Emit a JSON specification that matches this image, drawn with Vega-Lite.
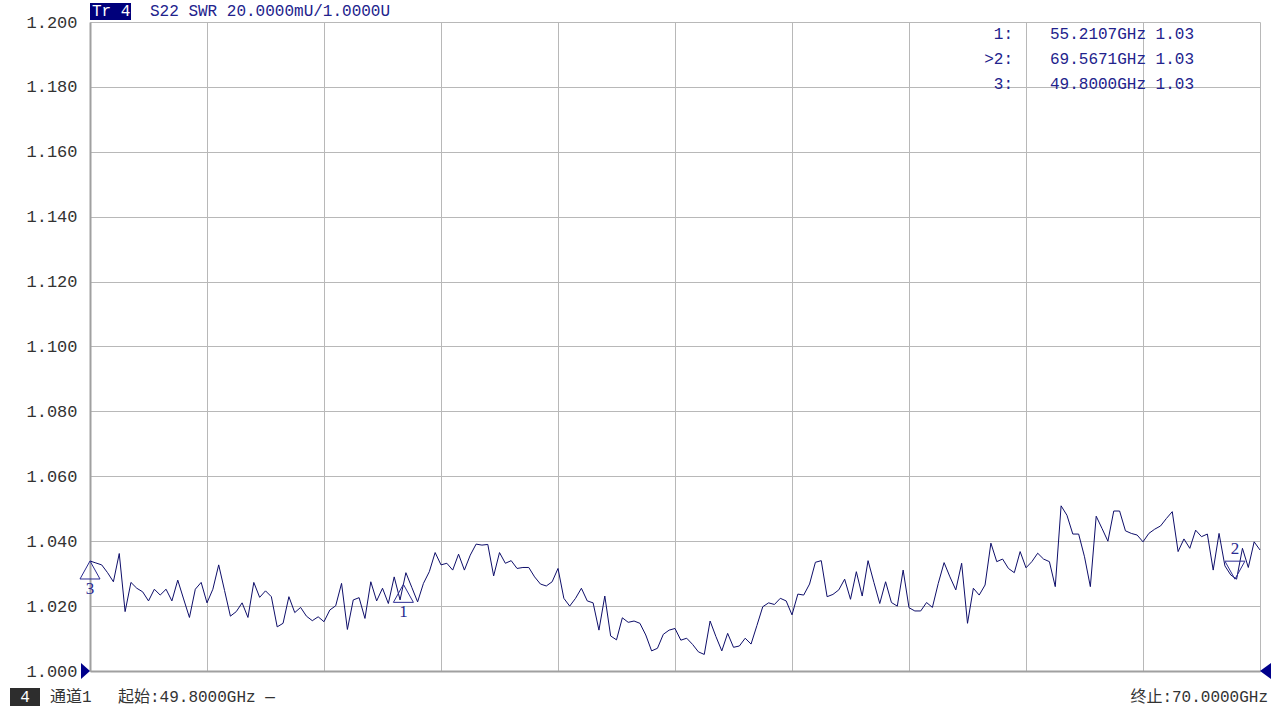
{
"$schema": "https://vega.github.io/schema/vega-lite/v6.json",
"width": 1170, "height": 649,
"autosize": "none",
"padding": {"left": 90, "top": 22, "right": 20, "bottom": 37},
"background": "white",
"config": {"view": {"stroke": null}, "font": "Liberation Mono, Noto Sans CJK SC"},
"data": {"values": [{}]},
"datasets": {
"trace": [
{"f":49.8,"swr":1.0339},{"f":49.901,"swr":1.0333},{"f":50.002,"swr":1.0327},{"f":50.103,"swr":1.0303},{"f":50.204,"swr":1.0275},
{"f":50.305,"swr":1.0362},{"f":50.406,"swr":1.0183},{"f":50.507,"swr":1.0273},{"f":50.608,"swr":1.0255},{"f":50.709,"swr":1.0244},
{"f":50.81,"swr":1.0216},{"f":50.911,"swr":1.0252},{"f":51.012,"swr":1.0234},{"f":51.113,"swr":1.0252},{"f":51.214,"swr":1.0216},
{"f":51.315,"swr":1.028},{"f":51.416,"swr":1.0222},{"f":51.517,"swr":1.0165},{"f":51.618,"swr":1.0252},{"f":51.719,"swr":1.0273},
{"f":51.82,"swr":1.021},{"f":51.921,"swr":1.0252},{"f":52.022,"swr":1.0327},{"f":52.123,"swr":1.0248},{"f":52.224,"swr":1.0169},
{"f":52.325,"swr":1.0183},{"f":52.426,"swr":1.021},{"f":52.527,"swr":1.0165},{"f":52.628,"swr":1.0273},{"f":52.729,"swr":1.0227},
{"f":52.83,"swr":1.0247},{"f":52.931,"swr":1.0229},{"f":53.032,"swr":1.0136},{"f":53.133,"swr":1.0147},{"f":53.234,"swr":1.0229},
{"f":53.335,"swr":1.018},{"f":53.436,"swr":1.0196},{"f":53.537,"swr":1.0169},{"f":53.638,"swr":1.0155},{"f":53.739,"swr":1.0167},
{"f":53.84,"swr":1.0152},{"f":53.941,"swr":1.0188},{"f":54.042,"swr":1.0201},{"f":54.143,"swr":1.027},{"f":54.244,"swr":1.0128},
{"f":54.345,"swr":1.0219},{"f":54.446,"swr":1.0226},{"f":54.547,"swr":1.0162},{"f":54.648,"swr":1.0275},{"f":54.749,"swr":1.0216},
{"f":54.85,"swr":1.0255},{"f":54.951,"swr":1.0208},{"f":55.052,"swr":1.029},{"f":55.153,"swr":1.0219},{"f":55.254,"swr":1.0303},
{"f":55.355,"swr":1.0258},{"f":55.456,"swr":1.0213},{"f":55.557,"swr":1.027},{"f":55.658,"swr":1.0306},{"f":55.759,"swr":1.0365},
{"f":55.86,"swr":1.0327},{"f":55.961,"swr":1.0332},{"f":56.062,"swr":1.0311},{"f":56.163,"swr":1.036},{"f":56.264,"swr":1.0311},
{"f":56.365,"swr":1.0357},{"f":56.466,"swr":1.0391},{"f":56.567,"swr":1.0388},{"f":56.668,"swr":1.039},{"f":56.769,"swr":1.0293},
{"f":56.87,"swr":1.0365},{"f":56.971,"swr":1.0332},{"f":57.072,"swr":1.034},{"f":57.173,"swr":1.0316},{"f":57.274,"swr":1.0319},
{"f":57.375,"swr":1.0319},{"f":57.476,"swr":1.029},{"f":57.577,"swr":1.0268},{"f":57.678,"swr":1.0262},{"f":57.779,"swr":1.0275},
{"f":57.88,"swr":1.0316},{"f":57.981,"swr":1.0224},{"f":58.082,"swr":1.02},{"f":58.183,"swr":1.0224},{"f":58.284,"swr":1.0255},
{"f":58.385,"swr":1.0216},{"f":58.486,"swr":1.021},{"f":58.587,"swr":1.0126},{"f":58.688,"swr":1.0231},{"f":58.789,"swr":1.0108},
{"f":58.89,"swr":1.0096},{"f":58.991,"swr":1.0164},{"f":59.092,"swr":1.015},{"f":59.193,"swr":1.0154},{"f":59.294,"swr":1.0147},
{"f":59.395,"swr":1.0111},{"f":59.496,"swr":1.0062},{"f":59.597,"swr":1.007},{"f":59.698,"swr":1.0113},{"f":59.799,"swr":1.0126},
{"f":59.9,"swr":1.0131},{"f":60.001,"swr":1.0095},{"f":60.102,"swr":1.0101},{"f":60.203,"swr":1.0082},{"f":60.304,"swr":1.0059},
{"f":60.405,"swr":1.0051},{"f":60.506,"swr":1.0154},{"f":60.607,"swr":1.0106},{"f":60.708,"swr":1.0062},{"f":60.809,"swr":1.0116},
{"f":60.91,"swr":1.0073},{"f":61.011,"swr":1.0077},{"f":61.112,"swr":1.0101},{"f":61.213,"swr":1.0083},{"f":61.314,"swr":1.014},
{"f":61.415,"swr":1.0198},{"f":61.516,"swr":1.021},{"f":61.617,"swr":1.0205},{"f":61.718,"swr":1.0224},{"f":61.819,"swr":1.0216},
{"f":61.92,"swr":1.0173},{"f":62.021,"swr":1.0237},{"f":62.122,"swr":1.0234},{"f":62.223,"swr":1.0268},{"f":62.324,"swr":1.0335},
{"f":62.425,"swr":1.034},{"f":62.526,"swr":1.0229},{"f":62.627,"swr":1.0236},{"f":62.728,"swr":1.025},{"f":62.829,"swr":1.0283},
{"f":62.93,"swr":1.0221},{"f":63.031,"swr":1.0306},{"f":63.132,"swr":1.0231},{"f":63.233,"swr":1.034},{"f":63.334,"swr":1.0273},
{"f":63.435,"swr":1.0208},{"f":63.536,"swr":1.0275},{"f":63.637,"swr":1.0211},{"f":63.738,"swr":1.02},{"f":63.839,"swr":1.0311},
{"f":63.94,"swr":1.0195},{"f":64.041,"swr":1.0185},{"f":64.142,"swr":1.0185},{"f":64.243,"swr":1.0211},{"f":64.344,"swr":1.0196},
{"f":64.445,"swr":1.027},{"f":64.546,"swr":1.0334},{"f":64.647,"swr":1.029},{"f":64.748,"swr":1.025},{"f":64.849,"swr":1.0332},
{"f":64.95,"swr":1.0147},{"f":65.051,"swr":1.0255},{"f":65.152,"swr":1.0234},{"f":65.253,"swr":1.0265},{"f":65.354,"swr":1.0394},
{"f":65.455,"swr":1.0337},{"f":65.556,"swr":1.0345},{"f":65.657,"swr":1.0316},{"f":65.758,"swr":1.0303},{"f":65.859,"swr":1.0368},
{"f":65.96,"swr":1.0318},{"f":66.061,"swr":1.0337},{"f":66.162,"swr":1.0363},{"f":66.263,"swr":1.0345},{"f":66.364,"swr":1.0337},
{"f":66.465,"swr":1.026},{"f":66.566,"swr":1.0509},{"f":66.667,"swr":1.048},{"f":66.768,"swr":1.0422},{"f":66.869,"swr":1.0422},
{"f":66.97,"swr":1.0352},{"f":67.071,"swr":1.026},{"f":67.172,"swr":1.0477},{"f":67.273,"swr":1.0439},{"f":67.374,"swr":1.04},
{"f":67.475,"swr":1.0493},{"f":67.576,"swr":1.0493},{"f":67.677,"swr":1.0432},{"f":67.778,"swr":1.0424},{"f":67.879,"swr":1.0419},
{"f":67.98,"swr":1.0398},{"f":68.081,"swr":1.0424},{"f":68.182,"swr":1.0437},{"f":68.283,"swr":1.0447},{"f":68.384,"swr":1.047},
{"f":68.485,"swr":1.0491},{"f":68.586,"swr":1.0368},{"f":68.687,"swr":1.0407},{"f":68.788,"swr":1.0378},{"f":68.889,"swr":1.0434},
{"f":68.99,"swr":1.0414},{"f":69.091,"swr":1.0422},{"f":69.192,"swr":1.0311},{"f":69.293,"swr":1.0424},{"f":69.394,"swr":1.0324},
{"f":69.495,"swr":1.0296},{"f":69.596,"swr":1.0283},{"f":69.697,"swr":1.0378},{"f":69.798,"swr":1.0319},{"f":69.899,"swr":1.0398},
{"f":70.0,"swr":1.0373}
],
"markers": [
{"m":"1","f":55.2107,"swr":1.0267,"active":false},
{"m":"2","f":69.5671,"swr":1.0283,"active":true},
{"m":"3","f":49.8,"swr":1.0339,"active":false}
]
},
"layer": [
{
"data": {"name": "trace"},
"mark": {"type": "line", "color": "#0e0e6a", "strokeWidth": 1, "interpolate": "linear"},
"encoding": {
"x": {"field": "f", "type": "quantitative",
"scale": {"domain": [49.8, 70], "nice": false, "zero": false},
"axis": {"values": [49.8, 51.82, 53.84, 55.86, 57.88, 59.9, 61.92, 63.94, 65.96, 67.98, 70],
"labels": false, "ticks": false, "title": null, "grid": true,
"gridColor": "#b8b8b8", "gridWidth": 1, "domainColor": "#a0a0a0", "domainWidth": 2}},
"y": {"field": "swr", "type": "quantitative",
"scale": {"domain": [1.0, 1.2], "nice": false, "zero": false},
"axis": {"values": [1.0, 1.02, 1.04, 1.06, 1.08, 1.1, 1.12, 1.14, 1.16, 1.18, 1.2],
"format": ".3f", "ticks": false, "labelPadding": 13, "labelFontSize": 17,
"labelColor": "#333333", "labelFont": "Liberation Mono", "title": null, "grid": true,
"gridColor": "#b8b8b8", "gridWidth": 1, "domainColor": "#a0a0a0", "domainWidth": 2}}
}
},
{
"data": {"name": "markers"},
"transform": [{"filter": "!datum.active"}],
"mark": {"type": "point", "shape": "M0,0L-1,1.8L1,1.8Z", "size": 400, "filled": false, "stroke": "#2a2a90", "strokeWidth": 1, "opacity": 1},
"encoding": {"x": {"field": "f", "type": "quantitative"}, "y": {"field": "swr", "type": "quantitative"}}
},
{
"data": {"name": "markers"},
"transform": [{"filter": "datum.active"}],
"mark": {"type": "point", "shape": "M0,0L-1,-1.8L1,-1.8Z", "size": 400, "filled": false, "stroke": "#2a2a90", "strokeWidth": 1, "opacity": 1},
"encoding": {"x": {"field": "f", "type": "quantitative"}, "y": {"field": "swr", "type": "quantitative"}}
},
{
"data": {"name": "markers"},
"transform": [{"filter": "!datum.active"}],
"mark": {"type": "text", "dy": 28, "fontSize": 17, "font": "Liberation Serif", "color": "#2a2a90", "align": "center", "baseline": "middle"},
"encoding": {"x": {"field": "f", "type": "quantitative"}, "y": {"field": "swr", "type": "quantitative"}, "text": {"field": "m"}}
},
{
"data": {"name": "markers"},
"transform": [{"filter": "datum.active"}],
"mark": {"type": "text", "dy": -30, "fontSize": 17, "font": "Liberation Serif", "color": "#2a2a90", "align": "center", "baseline": "middle"},
"encoding": {"x": {"field": "f", "type": "quantitative"}, "y": {"field": "swr", "type": "quantitative"}, "text": {"field": "m"}}
},
{
"mark": {"type": "point", "shape": "M0,0L-1.8,-1.6L-1.8,1.6Z", "size": 100, "filled": true, "color": "#00008b", "opacity": 1},
"encoding": {"x": {"datum": 49.8, "type": "quantitative"}, "y": {"datum": 1.0, "type": "quantitative"}}
},
{
"mark": {"type": "point", "shape": "M0,0L2.2,-1.6L2.2,1.6Z", "size": 100, "filled": true, "color": "#00008b", "opacity": 1},
"encoding": {"x": {"datum": 70, "type": "quantitative"}, "y": {"datum": 1.0, "type": "quantitative"}}
},
{
"mark": {"type": "point", "shape": "M0,-2.235L4.824,-2.235L4.824,-0.235L0,-0.235Z", "size": 289, "filled": true, "color": "#00007b", "opacity": 1},
"encoding": {"x": {"datum": 49.8, "type": "quantitative"}, "y": {"datum": 1.2, "type": "quantitative"}}
},
{
"mark": {"type": "text", "text": "Tr 4", "dx": 2, "dy": -11, "align": "left", "baseline": "middle", "fontSize": 16, "color": "white"},
"encoding": {"x": {"datum": 49.8, "type": "quantitative"}, "y": {"datum": 1.2, "type": "quantitative"}}
},
{
"mark": {"type": "text", "text": "S22 SWR 20.0000mU/1.0000U", "dx": 60, "dy": -11, "align": "left", "baseline": "middle", "fontSize": 16, "color": "#22228c"},
"encoding": {"x": {"datum": 49.8, "type": "quantitative"}, "y": {"datum": 1.2, "type": "quantitative"}}
},
{
"mark": {"type": "text", "text": "1:", "dx": -247, "dy": 12, "align": "right", "baseline": "middle", "fontSize": 16, "color": "#22228c"},
"encoding": {"x": {"datum": 70, "type": "quantitative"}, "y": {"datum": 1.2, "type": "quantitative"}}
},
{
"mark": {"type": "text", "text": "55.2107GHz 1.03", "dx": -66, "dy": 12, "align": "right", "baseline": "middle", "fontSize": 16, "color": "#22228c"},
"encoding": {"x": {"datum": 70, "type": "quantitative"}, "y": {"datum": 1.2, "type": "quantitative"}}
},
{
"mark": {"type": "text", "text": ">2:", "dx": -247, "dy": 37, "align": "right", "baseline": "middle", "fontSize": 16, "color": "#22228c"},
"encoding": {"x": {"datum": 70, "type": "quantitative"}, "y": {"datum": 1.2, "type": "quantitative"}}
},
{
"mark": {"type": "text", "text": "69.5671GHz 1.03", "dx": -66, "dy": 37, "align": "right", "baseline": "middle", "fontSize": 16, "color": "#22228c"},
"encoding": {"x": {"datum": 70, "type": "quantitative"}, "y": {"datum": 1.2, "type": "quantitative"}}
},
{
"mark": {"type": "text", "text": "3:", "dx": -247, "dy": 62, "align": "right", "baseline": "middle", "fontSize": 16, "color": "#22228c"},
"encoding": {"x": {"datum": 70, "type": "quantitative"}, "y": {"datum": 1.2, "type": "quantitative"}}
},
{
"mark": {"type": "text", "text": "49.8000GHz 1.03", "dx": -66, "dy": 62, "align": "right", "baseline": "middle", "fontSize": 16, "color": "#22228c"},
"encoding": {"x": {"datum": 70, "type": "quantitative"}, "y": {"datum": 1.2, "type": "quantitative"}}
},
{
"mark": {"type": "point", "shape": "M-8.889,1.889L-5.556,1.889L-5.556,3.889L-8.889,3.889Z", "size": 324, "filled": true, "color": "#2d2d2d", "opacity": 1},
"encoding": {"x": {"datum": 49.8, "type": "quantitative"}, "y": {"datum": 1.0, "type": "quantitative"}}
},
{
"mark": {"type": "text", "text": "4", "dx": -65, "dy": 26, "align": "center", "baseline": "middle", "fontSize": 16, "color": "white"},
"encoding": {"x": {"datum": 49.8, "type": "quantitative"}, "y": {"datum": 1.0, "type": "quantitative"}}
},
{
"mark": {"type": "text", "text": "通道1", "dx": -40, "dy": 26, "align": "left", "baseline": "middle", "fontSize": 16, "color": "#333333"},
"encoding": {"x": {"datum": 49.8, "type": "quantitative"}, "y": {"datum": 1.0, "type": "quantitative"}}
},
{
"mark": {"type": "text", "text": "起始:49.8000GHz —", "dx": 28, "dy": 26, "align": "left", "baseline": "middle", "fontSize": 16, "color": "#333333"},
"encoding": {"x": {"datum": 49.8, "type": "quantitative"}, "y": {"datum": 1.0, "type": "quantitative"}}
},
{
"mark": {"type": "text", "text": "终止:70.0000GHz", "dx": 8, "dy": 26, "align": "right", "baseline": "middle", "fontSize": 16, "color": "#333333"},
"encoding": {"x": {"datum": 70, "type": "quantitative"}, "y": {"datum": 1.0, "type": "quantitative"}}
}
]
}
